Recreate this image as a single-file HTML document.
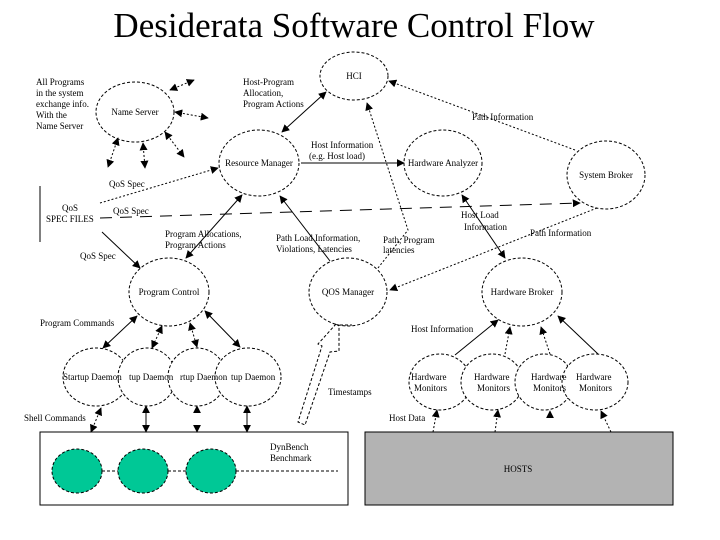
<!DOCTYPE html>
<html><head><meta charset="utf-8"><style>
html,body{margin:0;padding:0;background:#fff;}
svg{display:block;}
text{font-family:"Liberation Serif",serif;font-size:9px;fill:#000;}
</style></head><body>
<svg width="720" height="540" viewBox="0 0 720 540" xmlns="http://www.w3.org/2000/svg">
<defs>
<marker id="a" viewBox="0 0 10 10" refX="9" refY="5" markerWidth="8" markerHeight="8" orient="auto-start-reverse"><path d="M0,0 L10,5 L0,10 z" fill="#000"/></marker>
</defs>
<text x="354" y="37" text-anchor="middle" style="font-size:35px">Desiderata Software Control Flow</text>

<g fill="none" stroke="#000" stroke-width="1" stroke-dasharray="3,2">
<ellipse cx="354" cy="76" rx="34" ry="24"/>
<ellipse cx="135" cy="112" rx="39" ry="30"/>
<ellipse cx="259" cy="163" rx="40" ry="33"/>
<ellipse cx="443" cy="163" rx="39" ry="33"/>
<ellipse cx="606" cy="175" rx="39" ry="34"/>
<ellipse cx="169" cy="292" rx="40" ry="34"/>
<ellipse cx="348" cy="292" rx="39" ry="34"/>
<ellipse cx="522" cy="292" rx="40" ry="34"/>
</g>
<g fill="#fff" stroke="#000" stroke-width="1" stroke-dasharray="3,2">
<ellipse cx="96" cy="377" rx="33" ry="29"/>
<ellipse cx="147" cy="377" rx="29" ry="29"/>
<ellipse cx="197" cy="377" rx="29" ry="29"/>
<ellipse cx="248" cy="377" rx="33" ry="29"/>
<ellipse cx="440" cy="382" rx="31" ry="28"/>
<ellipse cx="492" cy="382" rx="31" ry="28"/>
<ellipse cx="544" cy="382" rx="29" ry="28"/>
<ellipse cx="595" cy="382" rx="33" ry="28"/>
</g>

<rect x="40" y="432" width="308" height="73" fill="#fff" stroke="#000"/>
<rect x="365" y="432" width="308" height="73" fill="#b3b3b3" stroke="#000"/>
<g fill="#00c896" stroke="#000" stroke-dasharray="3,2">
<ellipse cx="77" cy="471" rx="25" ry="22"/>
<ellipse cx="143" cy="471" rx="25" ry="22"/>
<ellipse cx="211" cy="471" rx="25" ry="22"/>
</g>
<g stroke="#000" stroke-dasharray="3,2"><line x1="102" y1="471" x2="118" y2="471"/><line x1="168" y1="471" x2="186" y2="471"/><line x1="236" y1="471" x2="338" y2="471"/></g>
<line x1="40" y1="186" x2="40" y2="242" stroke="#000"/>

<g stroke="#000" fill="none" stroke-dasharray="2,2" marker-end="url(#a)">
<line x1="170" y1="90" x2="194" y2="80" marker-start="url(#a)"/>
<line x1="175" y1="112" x2="208" y2="118" marker-start="url(#a)"/>
<line x1="165" y1="132" x2="184" y2="157" marker-start="url(#a)"/>
<line x1="143" y1="143" x2="145" y2="168" marker-start="url(#a)"/>
<line x1="118" y1="138" x2="108" y2="167" marker-start="url(#a)"/>
<line x1="575" y1="150" x2="389" y2="81"/>
<line x1="100" y1="203" x2="218" y2="168"/>
<line x1="597" y1="208" x2="390" y2="290"/>
<polyline points="378,268 408,230 367,103"/>
<line x1="162" y1="326" x2="152" y2="348" marker-start="url(#a)"/>
<line x1="190" y1="323" x2="197" y2="347" marker-start="url(#a)"/>
<line x1="101" y1="408" x2="91" y2="432" marker-start="url(#a)"/>
<line x1="197" y1="412" x2="197" y2="406"/>
<line x1="505" y1="354" x2="510" y2="327"/>
<line x1="550" y1="354" x2="541" y2="327"/>
<line x1="433" y1="432" x2="437" y2="410"/>
<line x1="495" y1="432" x2="498" y2="410"/>
<line x1="611" y1="432" x2="601" y2="411"/>
</g>
<line x1="550" y1="412" x2="550" y2="411" stroke="#000" marker-end="url(#a)"/>
<line x1="197" y1="425" x2="197" y2="432" stroke="#000" marker-end="url(#a)"/>
<line x1="100" y1="218" x2="580" y2="203" stroke="#000" stroke-dasharray="12,8" marker-end="url(#a)"/>

<g stroke="#000" fill="none" marker-end="url(#a)">
<line x1="282" y1="132" x2="326" y2="92" marker-start="url(#a)"/>
<line x1="301" y1="163" x2="404" y2="163"/>
<line x1="102" y1="232" x2="140" y2="268"/>
<line x1="186" y1="258" x2="242" y2="195" marker-start="url(#a)"/>
<line x1="330" y1="261" x2="280" y2="196"/>
<line x1="462" y1="195" x2="505" y2="258" marker-start="url(#a)"/>
<line x1="103" y1="348" x2="137" y2="316" marker-start="url(#a)"/>
<line x1="240" y1="347" x2="205" y2="311" marker-start="url(#a)"/>
<line x1="146" y1="406" x2="146" y2="432" marker-start="url(#a)"/>
<line x1="247" y1="406" x2="247" y2="432" marker-start="url(#a)"/>
<line x1="455" y1="355" x2="498" y2="320"/>
<line x1="598" y1="354" x2="558" y2="316"/>
</g>
<polygon points="336,324 318,344 322,346 298,422 305,425 330,352 339,351 339,326" fill="#fff" stroke="#000" stroke-dasharray="3,2"/>
<line x1="340" y1="325" x2="352" y2="325" stroke="#000" stroke-dasharray="3,2"/>

<text x="36" y="85">All Programs</text>
<text x="36" y="96">in the system</text>
<text x="36" y="107">exchange info.</text>
<text x="36" y="118">With the</text>
<text x="36" y="129">Name Server</text>
<text x="135" y="115" text-anchor="middle">Name Server</text>
<text x="243" y="85">Host-Program</text>
<text x="243" y="96">Allocation,</text>
<text x="243" y="107">Program Actions</text>
<text x="354" y="79" text-anchor="middle">HCI</text>
<text x="311" y="148">Host Information</text>
<text x="309" y="159">(e.g. Host load)</text>
<text x="259" y="166" text-anchor="middle">Resource Manager</text>
<text x="443" y="166" text-anchor="middle">Hardware  Analyzer</text>
<text x="472" y="120">Path Information</text>
<text x="606" y="178" text-anchor="middle">System Broker</text>
<text x="109" y="187">QoS Spec</text>
<text x="62" y="211">QoS</text>
<text x="46" y="222">SPEC FILES</text>
<text x="113" y="214">QoS Spec</text>
<text x="165" y="237">Program Allocations,</text>
<text x="165" y="248">Program Actions</text>
<text x="80" y="259">QoS Spec</text>
<text x="276" y="241">Path Load Information,</text>
<text x="276" y="252">Violations, Latencies</text>
<text x="383" y="243">Path, Program</text>
<text x="383" y="253">latencies</text>
<text x="461" y="218">Host Load</text>
<text x="464" y="230">Information</text>
<text x="530" y="236">Path Information</text>
<text x="169" y="295" text-anchor="middle">Program Control</text>
<text x="348" y="295" text-anchor="middle">QOS Manager</text>
<text x="522" y="295" text-anchor="middle">Hardware Broker</text>
<text x="40" y="326">Program Commands</text>
<text x="411" y="332">Host Information</text>
<text x="63" y="380">Startup Daemon</text>
<text x="129" y="380">tup Daemon</text>
<text x="180" y="380">rtup Daemon</text>
<text x="231" y="380">tup Daemon</text>
<text x="411" y="380">Hardware</text>
<text x="414" y="391">Monitors</text>
<text x="474" y="380">Hardware</text>
<text x="477" y="391">Monitors</text>
<text x="531" y="380">Hardware</text>
<text x="533" y="391">Monitors</text>
<text x="576" y="380">Hardware</text>
<text x="579" y="391">Monitors</text>
<text x="328" y="395">Timestamps</text>
<text x="24" y="421">Shell Commands</text>
<text x="389" y="421">Host Data</text>
<text x="270" y="450">DynBench</text>
<text x="270" y="461">Benchmark</text>
<text x="518" y="472" text-anchor="middle">HOSTS</text>
</svg>
</body></html>
